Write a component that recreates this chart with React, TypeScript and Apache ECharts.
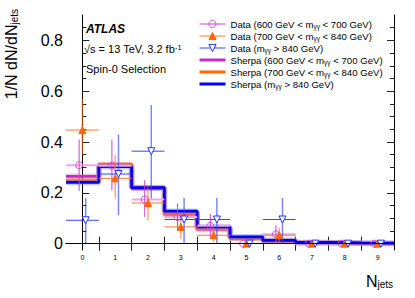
import React, { useEffect, useRef } from 'react';
import * as echarts from 'echarts';

const FONT = '"Liberation Sans", Arial, Helvetica, sans-serif';

// bins and ticks
const bins = [0, 1, 2, 3, 4, 5, 6, 7, 8, 9];
const xTickLabels = [0, 1, 2, 3, 4, 5, 6, 7, 8, 9];
const binEdges = [0.5, 1.5, 2.5, 3.5, 4.5, 5.5, 6.5, 7.5, 8.5];
const yMajorTicks = [0, 0.2, 0.4, 0.6, 0.8];
const yMinorTicks = [0.05, 0.1, 0.15, 0.25, 0.3, 0.35, 0.45, 0.5, 0.55, 0.65, 0.7, 0.75, 0.85];

// Sherpa predictions
const sherpaLow = [0.265, 0.311, 0.218, 0.115, 0.056, 0.021, 0.01, 0.004, 0.002, 0.001];
const sherpaMid = [0.248, 0.311, 0.221, 0.12, 0.06, 0.02, 0.01, 0.004, 0.002, 0.001];
const sherpaHigh = [0.241, 0.303, 0.22, 0.128, 0.066, 0.027, 0.013, 0.005, 0.003, 0.002];

// Data 600 < m < 700
const dataLow = [0.309, 0.307, 0.174, 0.105, 0.07, 0, 0.037, 0, 0, 0];
const dataLowErrLo = [0.208, 0.21, 0.105, 0.053, 0.026, 0, 0.006, 0, 0, 0];
const dataLowErrHi = [0.41, 0.41, 0.25, 0.158, 0.118, 0, 0.072, 0, 0, 0];
// Data 700 < m < 840
const dataMid = [0.447, 0.257, 0.16, 0.066, 0.033, 0, 0.033, 0, 0, 0];
const dataMidErrLo = [0.35, 0.178, 0.092, 0.02, 0.007, 0, 0.0, 0, 0, 0];
const dataMidErrHi = [0.57, 0.349, 0.23, 0.118, 0.053, 0, 0.063, 0, 0, 0];
// Data m > 840
const dataHigh = [0.092, 0.274, 0.364, 0.095, 0.095, 0, 0.095, 0, 0, 0];
const dataHighErrLo = [0, 0.112, 0.178, 0, 0, 0, 0, 0, 0, 0];
const dataHighErrHi = [0.18, 0.43, 0.546, 0.18, 0.18, 0, 0.18, 0, 0, 0];

const names = {
  dLow: 'Data (600 GeV < mγγ < 700 GeV)',
  dMid: 'Data (700 GeV < mγγ < 840 GeV)',
  dHigh: 'Data (mγγ > 840 GeV)',
  sLow: 'Sherpa (600 GeV < mγγ < 700 GeV)',
  sMid: 'Sherpa (700 GeV < mγγ < 840 GeV)',
  sHigh: 'Sherpa (mγγ > 840 GeV)',
};

const COLORS = {
  magLine: '#c828c8',
  magHalo: 'rgba(220,120,220,0.45)',
  magMarker: '#d84ad8',
  magErrV: '#cc44cc',
  magErrH: '#eaa8ea',
  orLine: '#ff6600',
  orHalo: 'rgba(255,150,90,0.45)',
  orMarker: '#ff6600',
  orErrV: 'rgba(255,110,20,0.6)',
  orErrH: '#ff7a30',
  blLine: '#0000ff',
  blHalo: 'rgba(120,130,255,0.45)',
  blMarker: '#2233ff',
  blErrV: 'rgba(50,70,255,0.65)',
  blErrH: '#3344ff',
};

const downTriangle = 'path://M0,0 L10,0 L5,8.66 Z';

function histSteps(vals: number[]) {
  const pts: number[][] = vals.map((v, i) => [bins[i] - 0.5, v]);
  pts.push([bins[bins.length - 1] + 0.5, vals[vals.length - 1]]);
  return pts;
}

function sherpaSeries(name: string, vals: number[], color: string, halo: string, extra: any = {}) {
  return [
    {
      type: 'line',
      name: name + ' band',
      data: histSteps(vals),
      step: 'end',
      symbol: 'none',
      lineStyle: { color: halo, width: 5.5 },
      itemStyle: { color: halo },
      silent: true,
      z: 2,
      ...extra,
    },
    {
      type: 'line',
      name,
      data: histSteps(vals),
      step: 'end',
      symbol: 'none',
      lineStyle: { color, width: 2.8 },
      itemStyle: { color },
      silent: true,
      z: 2,
    },
  ];
}

function errSeries(vals: number[], lo: number[], hi: number[], offset: number, vColor: string, hColor: string, vWidth: number, hWidth: number) {
  return {
    type: 'custom',
    name: 'err',
    silent: true,
    z: 3,
    renderItem: (params: any, api: any) => {
      const b = api.value(0);
      const y = api.value(1);
      const l = api.value(2);
      const h = api.value(3);
      const x = b + offset;
      const pTop = api.coord([x, h]);
      const pBot = api.coord([x, l]);
      const pL = api.coord([b - 0.5, y]);
      const pR = api.coord([b + 0.5, y]);
      return {
        type: 'group',
        children: [
          { type: 'line', shape: { x1: pL[0], y1: pL[1], x2: pR[0], y2: pR[1] }, style: { stroke: hColor, lineWidth: hWidth } },
          { type: 'line', shape: { x1: pTop[0], y1: pTop[1], x2: pBot[0], y2: pBot[1] }, style: { stroke: vColor, lineWidth: vWidth } },
        ],
      };
    },
    encode: { x: 0, y: 1 },
    data: bins.filter((i) => vals[i] > 0).map((i) => [bins[i], vals[i], lo[i], hi[i]]),
  };
}

function markerSeries(name: string, vals: number[], offset: number, symbol: string, itemStyle: any) {
  return {
    type: 'line',
    name,
    data: bins.map((i) => [bins[i] + offset, vals[i]]),
    symbol,
    symbolSize: 7,
    showSymbol: true,
    showAllSymbol: true,
    lineStyle: { opacity: 0, width: 0 },
    itemStyle,
    silent: true,
    z: 4,
  };
}

function legendText(name: string) {
  const parts = name.split('γγ');
  return `{t|${parts[0]}}{s|γγ}{t|${parts[1]}}`;
}

export default function App() {
  const ref = useRef<HTMLDivElement>(null);
  useEffect(() => {
    if (!ref.current) return;
    const chart = echarts.init(ref.current, undefined, { renderer: 'svg' });
    const yMin = -0.025;
    const yMax = 0.9;
    const tickColor = '#222';
    const option: any = {
      animation: false,
      backgroundColor: '#fff',
      textStyle: { fontFamily: FONT },
      grid: { left: 66, right: 21, top: 15, bottom: 48, containLabel: false },
      xAxis: [
        {
          type: 'value', position: 'bottom', min: -0.5, max: 9.5,
          axisLine: { show: true, lineStyle: { color: '#000', width: 1 } },
          axisTick: { show: true, inside: true, length: 7, customValues: binEdges, lineStyle: { color: tickColor } },
          axisLabel: { show: true, customValues: xTickLabels, fontSize: 7, color: '#000', margin: 4, fontFamily: FONT },
          splitLine: { show: false },
        },
        {
          type: 'value', position: 'top', min: -0.5, max: 9.5,
          axisLine: { show: true, lineStyle: { color: '#000', width: 1 } },
          axisTick: { show: true, inside: true, length: 7, customValues: binEdges, lineStyle: { color: tickColor } },
          axisLabel: { show: false },
          splitLine: { show: false },
        },
      ],
      yAxis: [
        {
          type: 'value', position: 'left', min: yMin, max: yMax,
          axisLine: { show: true, lineStyle: { color: '#000', width: 1 } },
          axisTick: { show: true, inside: true, length: 7, customValues: yMajorTicks, lineStyle: { color: tickColor } },
          axisLabel: { show: true, customValues: yMajorTicks, fontSize: 16, color: '#000', margin: 3, fontFamily: FONT },
          splitLine: { show: false },
        },
        {
          type: 'value', position: 'left', min: yMin, max: yMax,
          axisLine: { show: false },
          axisTick: { show: true, inside: true, length: 4, customValues: yMinorTicks, lineStyle: { color: tickColor } },
          axisLabel: { show: false },
          splitLine: { show: false },
        },
        {
          type: 'value', position: 'right', min: yMin, max: yMax,
          axisLine: { show: true, lineStyle: { color: '#000', width: 1 } },
          axisTick: { show: true, inside: true, length: 7, customValues: yMajorTicks, lineStyle: { color: tickColor } },
          axisLabel: { show: false },
          splitLine: { show: false },
        },
        {
          type: 'value', position: 'right', min: yMin, max: yMax,
          axisLine: { show: false },
          axisTick: { show: true, inside: true, length: 4, customValues: yMinorTicks, lineStyle: { color: tickColor } },
          axisLabel: { show: false },
          splitLine: { show: false },
        },
      ],
      legend: {
        orient: 'vertical',
        left: 198,
        top: 19,
        padding: 0,
        itemWidth: 26,
        itemHeight: 9,
        itemGap: 1,
        selectedMode: false,
        formatter: legendText,
        textStyle: {
          fontFamily: FONT,
          color: '#000',
          rich: {
            t: { fontSize: 9.6, lineHeight: 12, fontFamily: FONT, color: '#000' },
            s: { fontSize: 6.5, lineHeight: 2, verticalAlign: 'bottom', fontFamily: FONT, color: '#000' },
          },
        },
        data: [
          { name: names.dLow, lineStyle: { color: COLORS.magErrV, width: 1, opacity: 1 }, itemStyle: { borderWidth: 1 } },
          { name: names.dMid, lineStyle: { color: COLORS.orErrH, width: 1, opacity: 1 }, itemStyle: { borderWidth: 1 } },
          { name: names.dHigh, lineStyle: { color: COLORS.blErrH, width: 1, opacity: 1 }, itemStyle: { borderWidth: 1 } },
          { name: names.sLow, lineStyle: { width: 3 }, itemStyle: { opacity: 0 } },
          { name: names.sMid, lineStyle: { width: 3 }, itemStyle: { opacity: 0 } },
          { name: names.sHigh, lineStyle: { width: 3 }, itemStyle: { opacity: 0 } },
        ],
      },
      series: [
        ...sherpaSeries(names.sLow, sherpaLow, COLORS.magLine, COLORS.magHalo, {
          markLine: {
            silent: true, symbol: 'none', label: { show: false },
            lineStyle: { color: '#000', width: 1, type: 'solid' },
            data: [{ yAxis: 0 }],
          },
        }),
        ...sherpaSeries(names.sMid, sherpaMid, COLORS.orLine, COLORS.orHalo),
        ...sherpaSeries(names.sHigh, sherpaHigh, COLORS.blLine, COLORS.blHalo),
        errSeries(dataLow, dataLowErrLo, dataLowErrHi, -0.1, COLORS.magErrV, COLORS.magErrH, 1, 2),
        errSeries(dataMid, dataMidErrLo, dataMidErrHi, 0, COLORS.orErrV, COLORS.orErrH, 1.5, 1),
        errSeries(dataHigh, dataHighErrLo, dataHighErrHi, 0.1, COLORS.blErrV, COLORS.blErrH, 1.5, 1),
        markerSeries(names.dLow, dataLow, -0.1, 'circle', { color: 'rgba(255,255,255,0)', borderColor: COLORS.magMarker, borderWidth: 1 }),
        markerSeries(names.dMid, dataMid, 0, 'triangle', { color: COLORS.orMarker, borderColor: COLORS.orMarker, borderWidth: 1 }),
        markerSeries(names.dHigh, dataHigh, 0.1, downTriangle, { color: '#fff', borderColor: COLORS.blMarker, borderWidth: 1 }),
      ],
      graphic: [
        {
          type: 'text', x: 86, y: 29,
          style: { text: 'ATLAS', fontSize: 12, fontWeight: 'bold', fontStyle: 'italic', fontFamily: FONT, fill: '#000', verticalAlign: 'middle', align: 'left' },
        },
        {
          type: 'text', x: 84, y: 49,
          style: {
            text: '{a|√s = 13 TeV, 3.2 fb}{b|-1}', verticalAlign: 'middle', align: 'left', fill: '#000',
            rich: {
              a: { fontSize: 11, lineHeight: 12, fontFamily: FONT, fill: '#000' },
              b: { fontSize: 7.5, lineHeight: 5, verticalAlign: 'top', fontFamily: FONT, fill: '#000' },
            },
          },
        },
        {
          type: 'text', x: 86, y: 69,
          style: { text: 'Spin-0 Selection', fontSize: 11, fontFamily: FONT, fill: '#000', verticalAlign: 'middle', align: 'left' },
        },
        {
          type: 'text', x: 11, y: 9, rotation: Math.PI / 2,
          style: {
            text: '{m|1/N dN/dN}{s|jets}', align: 'right', verticalAlign: 'middle', fill: '#000',
            rich: {
              m: { fontSize: 16, lineHeight: 16, fontFamily: FONT, fill: '#000' },
              s: { fontSize: 10, lineHeight: 7, verticalAlign: 'bottom', fontFamily: FONT, fill: '#000' },
            },
          },
        },
        {
          type: 'text', x: 393, y: 281,
          style: {
            text: '{m|N}{s|jets}', align: 'right', verticalAlign: 'middle', fill: '#000',
            rich: {
              m: { fontSize: 16, lineHeight: 16, fontFamily: FONT, fill: '#000' },
              s: { fontSize: 10, lineHeight: 7, verticalAlign: 'bottom', fontFamily: FONT, fill: '#000' },
            },
          },
        },
      ],
    };
    chart.setOption(option);
    return () => chart.dispose();
  }, []);
  return <div ref={ref} style={{ position: 'absolute', left: 0, top: 0, width: 415, height: 298 }} />;
}
